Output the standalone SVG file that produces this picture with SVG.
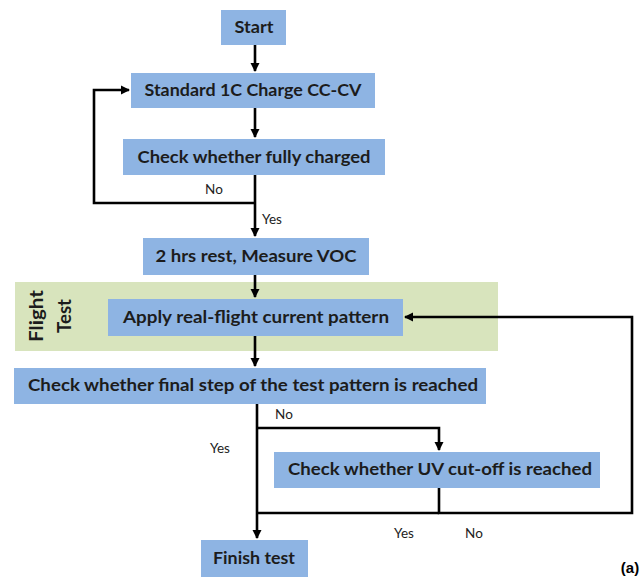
<svg xmlns="http://www.w3.org/2000/svg" width="643" height="578" viewBox="0 0 643 578">
<style>
.box{fill:#8EB4E3;}
.t{font-family:Lato,"Liberation Sans",sans-serif;font-weight:bold;font-size:17px;fill:#1c1c1c;text-anchor:middle;}
.lbl{font-family:Lato,"Liberation Sans",sans-serif;font-size:13.5px;fill:#222;text-anchor:middle;}
.c{fill:none;stroke:#000;stroke-width:2.6;}
</style>
<defs>
<marker id="ah" markerWidth="10" markerHeight="10" refX="8" refY="5" orient="auto" markerUnits="userSpaceOnUse">
<path d="M0,0.5 L9,5 L0,9.5 Z" fill="#000"/>
</marker>
</defs>
<rect width="643" height="578" fill="#fff"/>
<g id="flight-test">
<rect x="15" y="282" width="483" height="69" fill="#D8E4BD"/>
<text class="t" transform="translate(43,316) rotate(-90)" style="font-size:18px" textLength="52" lengthAdjust="spacingAndGlyphs">Flight</text>
<text class="t" transform="translate(71,316) rotate(-90)" style="font-size:18px" textLength="34" lengthAdjust="spacingAndGlyphs">Test</text>
</g>
<g id="connectors">
<path class="c" d="M255,45 V71" marker-end="url(#ah)"/>
<path class="c" d="M255,108 V137" marker-end="url(#ah)"/>
<path class="c" d="M255,175 V236" marker-end="url(#ah)"/>
<path class="c" d="M255,203 H94 V90 H129" marker-end="url(#ah)"/>
<path class="c" d="M255,275 V297" marker-end="url(#ah)"/>
<path class="c" d="M255,336 V366" marker-end="url(#ah)"/>
<path class="c" d="M257,404 V538" marker-end="url(#ah)"/>
<path class="c" d="M257,428 H439 V450" marker-end="url(#ah)"/>
<path class="c" d="M257,513 H439"/>
<path class="c" d="M439,488 V513 H632 V317 H405" marker-end="url(#ah)"/>
<text class="lbl" x="214" y="194">No</text>
<text class="lbl" x="272" y="224">Yes</text>
<text class="lbl" x="284" y="419">No</text>
<text class="lbl" x="220" y="453">Yes</text>
<text class="lbl" x="404" y="538">Yes</text>
<text class="lbl" x="474" y="538">No</text>
</g>
<g id="start"><rect class="box" x="221" y="10" width="65" height="35"/><text class="t" x="254" y="33" textLength="39" lengthAdjust="spacingAndGlyphs">Start</text></g>
<g id="charge"><rect class="box" x="131" y="73" width="244" height="35"/><text class="t" x="253" y="96" textLength="217" lengthAdjust="spacingAndGlyphs">Standard 1C Charge CC-CV</text></g>
<g id="check-charged"><rect class="box" x="123" y="139" width="262" height="36"/><text class="t" x="254" y="163" textLength="233" lengthAdjust="spacingAndGlyphs">Check whether fully charged</text></g>
<g id="rest"><rect class="box" x="143" y="238" width="226" height="37"/><text class="t" x="256" y="262" textLength="201" lengthAdjust="spacingAndGlyphs">2 hrs rest, Measure VOC</text></g>
<g id="apply"><rect class="box" x="108" y="299" width="295" height="37"/><text class="t" x="256" y="323" textLength="266" lengthAdjust="spacingAndGlyphs">Apply real-flight current pattern</text></g>
<g id="check-final"><rect class="box" x="14" y="368" width="472" height="36"/><text class="t" x="253" y="391" textLength="450" lengthAdjust="spacingAndGlyphs">Check whether final step of the test pattern is reached</text></g>
<g id="check-uv"><rect class="box" x="274" y="452" width="326" height="36"/><text class="t" x="440" y="475" textLength="304" lengthAdjust="spacingAndGlyphs">Check whether UV cut-off is reached</text></g>
<g id="finish"><rect class="box" x="201" y="540" width="107" height="37"/><text class="t" x="254" y="564" textLength="82" lengthAdjust="spacingAndGlyphs">Finish test</text></g>
<text x="630" y="573" style="font-family:'Liberation Sans',Arial,sans-serif;font-weight:bold;font-size:15px;text-anchor:middle;fill:#000">(a)</text>
</svg>
